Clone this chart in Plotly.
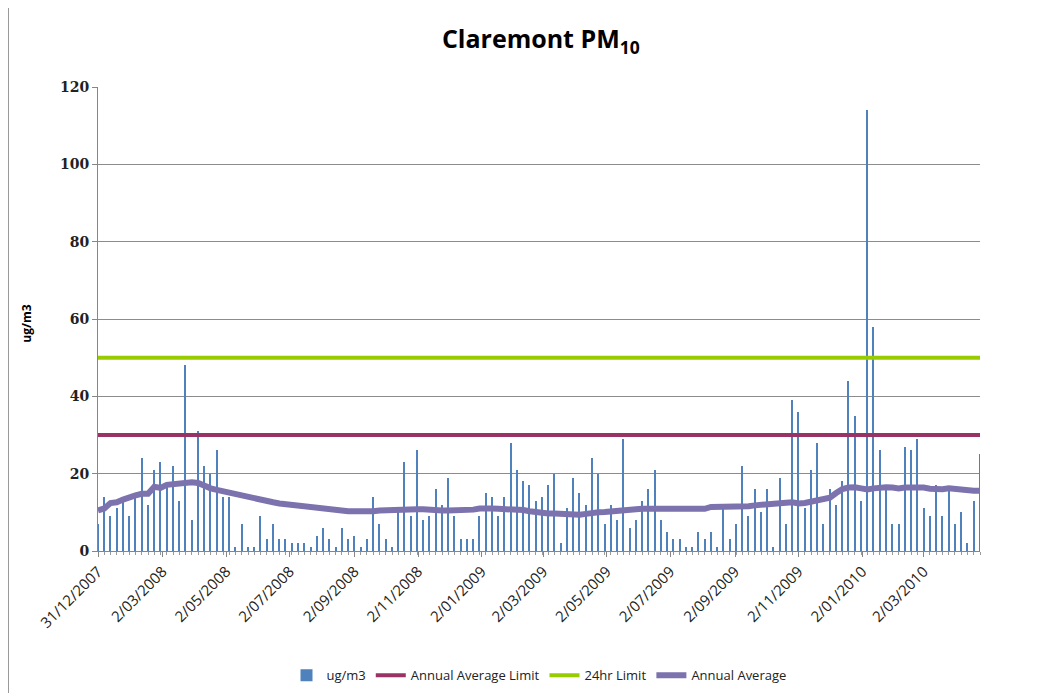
import pandas as pd
import plotly.graph_objects as go

# Sampling dates: every 6th day starting 31/12/2007 (142 samples)
start_date = "2007-12-31"
n_samples = 142
dates = pd.date_range(start_date, periods=n_samples, freq="6D")

pm10 = [
    7, 14, 9, 11, 13, 9, 14, 24, 12, 21, 23, 17, 22, 13, 48, 8, 31, 22, 20, 26,
    14, 14, 1, 7, 1, 1, 9, 3, 7, 3, 3, 2, 2, 2, 1, 4,
    6, 3, 1, 6, 3, 4, 1, 3, 14, 7, 3, 1, 10, 23, 9, 26, 8, 9, 16, 12,
    19, 9, 3, 3, 3, 9, 15, 14, 9, 14, 28, 21, 18, 17, 13,
    14, 17, 20, 2, 11, 19, 15, 12, 24, 20, 7, 12, 8, 29, 6, 8, 13, 16, 21, 8,
    5, 3, 3, 1, 1, 5, 3, 5, 1, 11, 3, 7, 22, 9, 16,
    10, 16, 1, 19, 7, 39, 36, 11, 21, 28, 7, 16, 12, 18, 44, 35, 13, 114, 58, 26,
    16, 7, 7, 27, 26, 29, 11, 9, 17, 9, 16, 7, 10, 2, 13, 25,
]

annual_average = [
    10.5, 11.0, 12.4, 12.6, 13.3, 14.0, 14.4, 14.8, 14.8, 16.6,
    16.3, 17.1, 17.3, 17.4, 17.9, 17.8, 17.6, 16.8, 16.2, 15.8,
    15.4, 15.0, 14.7, 14.3, 14.0, 13.6, 13.3, 13.0, 12.6, 12.3,
    12.1, 12.0, 11.9, 11.6, 11.3, 11.0, 10.9, 10.8, 10.6, 10.4,
    10.3, 10.3, 10.2, 10.2, 10.3, 10.5, 10.6, 10.7, 10.6, 10.7,
    10.8, 10.8, 10.8, 10.6, 10.5, 10.5, 10.5, 10.5, 10.5, 10.6,
    10.7, 11.0, 11.1, 11.0, 10.9, 10.9, 10.9, 10.9, 10.6, 10.3,
    10.0, 9.8, 9.7, 9.7, 9.6, 9.6, 9.5, 9.4, 9.6, 9.9,
    10.0, 10.1, 10.3, 10.5, 10.7, 10.7, 10.8, 10.9, 10.9, 10.9,
    10.9, 10.9, 10.9, 10.9, 10.9, 10.9, 10.9, 10.9, 11.4, 11.4,
    11.4, 11.5, 11.7, 11.7, 11.6, 11.8, 12.0, 12.1, 12.2, 12.3,
    12.5, 12.6, 12.3, 12.4, 12.8, 13.2, 13.6, 13.8, 15.0, 16.0,
    16.4, 16.5, 16.2, 15.9, 16.2, 16.4, 16.5, 16.4, 16.2, 16.4,
    16.5, 16.5, 16.4, 16.1, 15.9, 16.0, 16.2, 16.0, 15.9, 15.7,
    15.6, 15.6,
]

annual_average_limit = [30] * n_samples
limit_24hr = [50] * n_samples

tick_dates = ["2007-12-31", "2008-03-02", "2008-05-02", "2008-07-02", "2008-09-02",
              "2008-11-02", "2009-01-02", "2009-03-02", "2009-05-02", "2009-07-02",
              "2009-09-02", "2009-11-02", "2010-01-02", "2010-03-02"]
tick_labels = ["31/12/2007", "2/03/2008", "2/05/2008", "2/07/2008", "2/09/2008",
               "2/11/2008", "2/01/2009", "2/03/2009", "2/05/2009", "2/07/2009",
               "2/09/2009", "2/11/2009", "2/01/2010", "2/03/2010"]

DAY_MS = 86400000

fig = go.Figure()
fig.add_trace(go.Bar(
    x=dates, y=pm10, name="ug/m3",
    marker=dict(color="#4F81BD", line=dict(width=0)),
    width=1.3 * DAY_MS,
))
fig.add_trace(go.Scatter(
    x=dates, y=annual_average_limit, name="Annual Average Limit", mode="lines",
    line=dict(color="#993366", width=4),
))
fig.add_trace(go.Scatter(
    x=dates, y=limit_24hr, name="24hr Limit", mode="lines",
    line=dict(color="#99CC00", width=4),
))
fig.add_trace(go.Scatter(
    x=dates, y=annual_average, name="Annual Average", mode="lines",
    line=dict(color="#7B72AE", width=6),
))

# page body adds an 8px offset; figure is sized so the plot area lands at x 98-980, y 87-551
fig.update_layout(
    width=1053, height=685,
    margin=dict(l=90, r=81, t=79, b=142, autoexpand=False),
    paper_bgcolor="white", plot_bgcolor="white",
    showlegend=True,
    bargap=0,
    title=dict(
        text="<b>Claremont PM<sub>10</sub></b>",
        x=0.506, xanchor="center", y=0.954, yanchor="middle",
        font=dict(family="Open Sans, Arial, sans-serif", size=25, color="black"),
    ),
    legend=dict(
        orientation="h", x=0.5, xanchor="center", y=-0.268, yanchor="middle",
        font=dict(family="Open Sans, sans-serif", size=13, color="#222"),
        itemwidth=30, traceorder="normal",
    ),
    xaxis=dict(
        type="date", automargin=False,
        range=["2007-12-31", "2010-04-25"],
        tickmode="array", tickvals=tick_dates, ticktext=tick_labels,
        tickangle=-45,
        ticks="outside", ticklen=5, tickcolor="#868686",
        showline=True, linecolor="#868686", linewidth=1,
        showgrid=False, zeroline=False,
        tickfont=dict(family="Open Sans, sans-serif", size=15, color="#222"),
        minor=dict(ticks="outside", ticklen=3, tickcolor="#9a9a9a",
                   dtick=6 * DAY_MS, tick0="2007-12-31", showgrid=False),
    ),
    yaxis=dict(
        range=[0, 120], dtick=20, automargin=False,
        ticks="outside", ticklen=5, tickcolor="#868686",
        showline=True, linecolor="#868686", linewidth=1,
        showgrid=True, gridcolor="#8c8c8c", gridwidth=1,
        zeroline=False,
        tickfont=dict(family="DejaVu Serif, serif", size=14, color="#222", weight="bold"),
    ),
    annotations=[dict(
        text="<b>ug/m3</b>", xref="paper", yref="paper",
        x=(27 - 98) / 882, y=0.49, xanchor="center", yanchor="middle",
        textangle=-90, showarrow=False,
        font=dict(family="Open Sans, Arial, sans-serif", size=12, color="black"),
    )],
    shapes=[dict(type="line", xref="paper", yref="paper",
                 x0=-89.5 / 882, x1=-89.5 / 882, y0=-142 / 464, y1=79 / 464 + 1,
                 line=dict(color="#9a9a9a", width=1))],
)

fig.write_html("out.html")
